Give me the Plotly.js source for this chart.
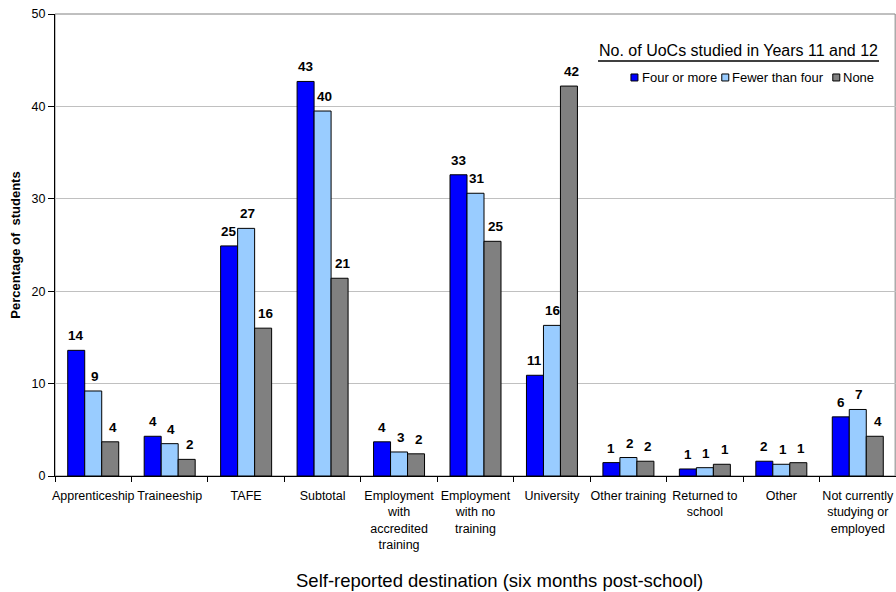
<!DOCTYPE html>
<html>
<head>
<meta charset="utf-8">
<script src="https://cdn.plot.ly/plotly-3.0.1.min.js"></script>
<style>
  html, body { margin: 0; padding: 0; background: #ffffff; }
  #chart { width: 896px; height: 592px; }
</style>
</head>
<body>
<div id="chart"></div>
<script>
// Post-school destinations by number of UoCs studied
const destinations = [
  "Apprenticeship",
  "Traineeship",
  "TAFE",
  "Subtotal",
  "Employment<br>with<br>accredited<br>training",
  "Employment<br>with no<br>training",
  "University",
  "Other training",
  "Returned to<br>school",
  "Other",
  "Not currently<br>studying or<br>employed"
];

const fourOrMore    = [13.6, 4.3, 24.9, 42.7, 3.7, 32.6, 10.9, 1.45, 0.76, 1.6, 6.4];
const fewerThanFour = [9.2, 3.5, 26.8, 39.5, 2.6, 30.6, 16.3, 2.0, 0.9, 1.27, 7.2];
const none          = [3.7, 1.8, 16.0, 21.4, 2.4, 25.4, 42.2, 1.6, 1.27, 1.44, 4.3];

const seriesNames = ["Four or more", "Fewer than four", "None"];
const legendTitle = "No. of UoCs studied in Years 11 and 12";
const xTitle = "Self-reported destination (six months post-school)";
const yTitle = "Percentage of  students";
const yTicks = [0, 10, 20, 30, 40, 50];

const FONT = "Arial, 'Liberation Sans', sans-serif";
const colors = ["#0000ff", "#99ccff", "#808080"];
const values = [fourOrMore, fewerThanFour, none];

const traces = values.map((v, i) => ({
  type: "bar",
  name: seriesNames[i],
  x: destinations,
  y: v,
  marker: { color: colors[i], line: { color: "#000000", width: 1 } },
  hoverinfo: "skip",
  showlegend: false
}));

// Rounded value labels sitting above each bar of the group
const BAR_PX = 17;   // width of one bar in the group, pixels
const valueLabels = [];
values.forEach((v, i) => {
  v.forEach((val, j) => {
    valueLabels.push({
      text: String(Math.round(val)),
      x: destinations[j], y: val,
      xref: "x", yref: "y",
      xanchor: "center", yanchor: "bottom",
      xshift: (i - 1) * BAR_PX + i * 1.5,
      yshift: 6,
      showarrow: false,
      borderpad: 0,
      font: { family: FONT, size: 13.5, color: "#000000", weight: "bold" }
    });
  });
});

// Compact key in the upper right: small swatch followed by its label
const keySwatchX = [0.689, 0.797, 0.929];   // swatch centres (paper x)
const keyTextX   = [0.697, 0.804, 0.936];   // label left edges (paper x)
const keyY = 0.8626;

const keyShapes = seriesNames.map((_, i) => ({
  type: "rect",
  xref: "paper", yref: "paper",
  xsizemode: "pixel", ysizemode: "pixel",
  xanchor: keySwatchX[i], yanchor: keyY,
  x0: -3.5, x1: 3.5, y0: -3.5, y1: 3.5,
  fillcolor: colors[i],
  line: { color: "#000000", width: 1 }
}));

const keyLabels = seriesNames.map((name, i) => ({
  text: name,
  xref: "paper", yref: "paper",
  x: keyTextX[i], xanchor: "left",
  y: keyY, yanchor: "middle",
  showarrow: false,
  borderpad: 0,
  font: { family: FONT, size: 13, color: "#000000" }
}));

const layout = {
  width: 896,
  height: 592,
  margin: { l: 55, r: 0, t: 14, b: 116 },
  paper_bgcolor: "#ffffff",
  plot_bgcolor: "#ffffff",
  font: { family: FONT, size: 12.5, color: "#000000" },
  barmode: "group",
  bargap: 0.333,
  bargroupgap: 0,
  showlegend: false,
  xaxis: {
    type: "category",
    tickson: "boundaries",
    ticks: "outside",
    ticklen: 5,
    tickcolor: "#000000",
    ticklabelstandoff: 8,
    showline: true,
    linecolor: "#000000",
    linewidth: 1,
    showgrid: false,
    tickangle: 0,
    tickfont: { family: FONT, size: 12.5, color: "#000000" }
  },
  yaxis: {
    range: [0, 50],
    tickvals: yTicks,
    ticks: "outside",
    ticklen: 6,
    tickcolor: "#000000",
    showline: true,
    linecolor: "#000000",
    linewidth: 1,
    showgrid: true,
    gridcolor: "#c0c0c0",
    gridwidth: 1,
    zeroline: false,
    tickfont: { family: FONT, size: 12.5, color: "#000000" },
    title: {
      text: yTitle,
      font: { family: FONT, size: 13, color: "#000000", weight: "bold" },
      standoff: 8
    }
  },
  shapes: [
    {
      type: "rect", xref: "paper", yref: "paper",
      x0: 0, x1: 0.999, y0: 0, y1: 1,
      line: { color: "#808080", width: 1 },
      layer: "below"
    },
    {
      type: "line", xref: "paper", yref: "paper",
      x0: 0.6457, x1: 0.9798, y0: 0.898, y1: 0.898,
      line: { color: "#000000", width: 1.5 }
    }
  ].concat(keyShapes),
  annotations: [
    {
      text: legendTitle,
      xref: "paper", yref: "paper",
      x: 0.9798, xanchor: "right",
      y: 0.921, yanchor: "middle",
      showarrow: false,
      borderpad: 0,
      font: { family: FONT, size: 16, color: "#000000" }
    },
    {
      text: xTitle,
      xref: "paper", yref: "paper",
      x: 0.528, xanchor: "center",
      y: -0.226, yanchor: "middle",
      showarrow: false,
      font: { family: FONT, size: 18.5, color: "#000000" }
    }
  ].concat(keyLabels, valueLabels),
  hovermode: false
};

Plotly.newPlot("chart", traces, layout, { displayModeBar: false, staticPlot: true });
</script>
</body>
</html>
